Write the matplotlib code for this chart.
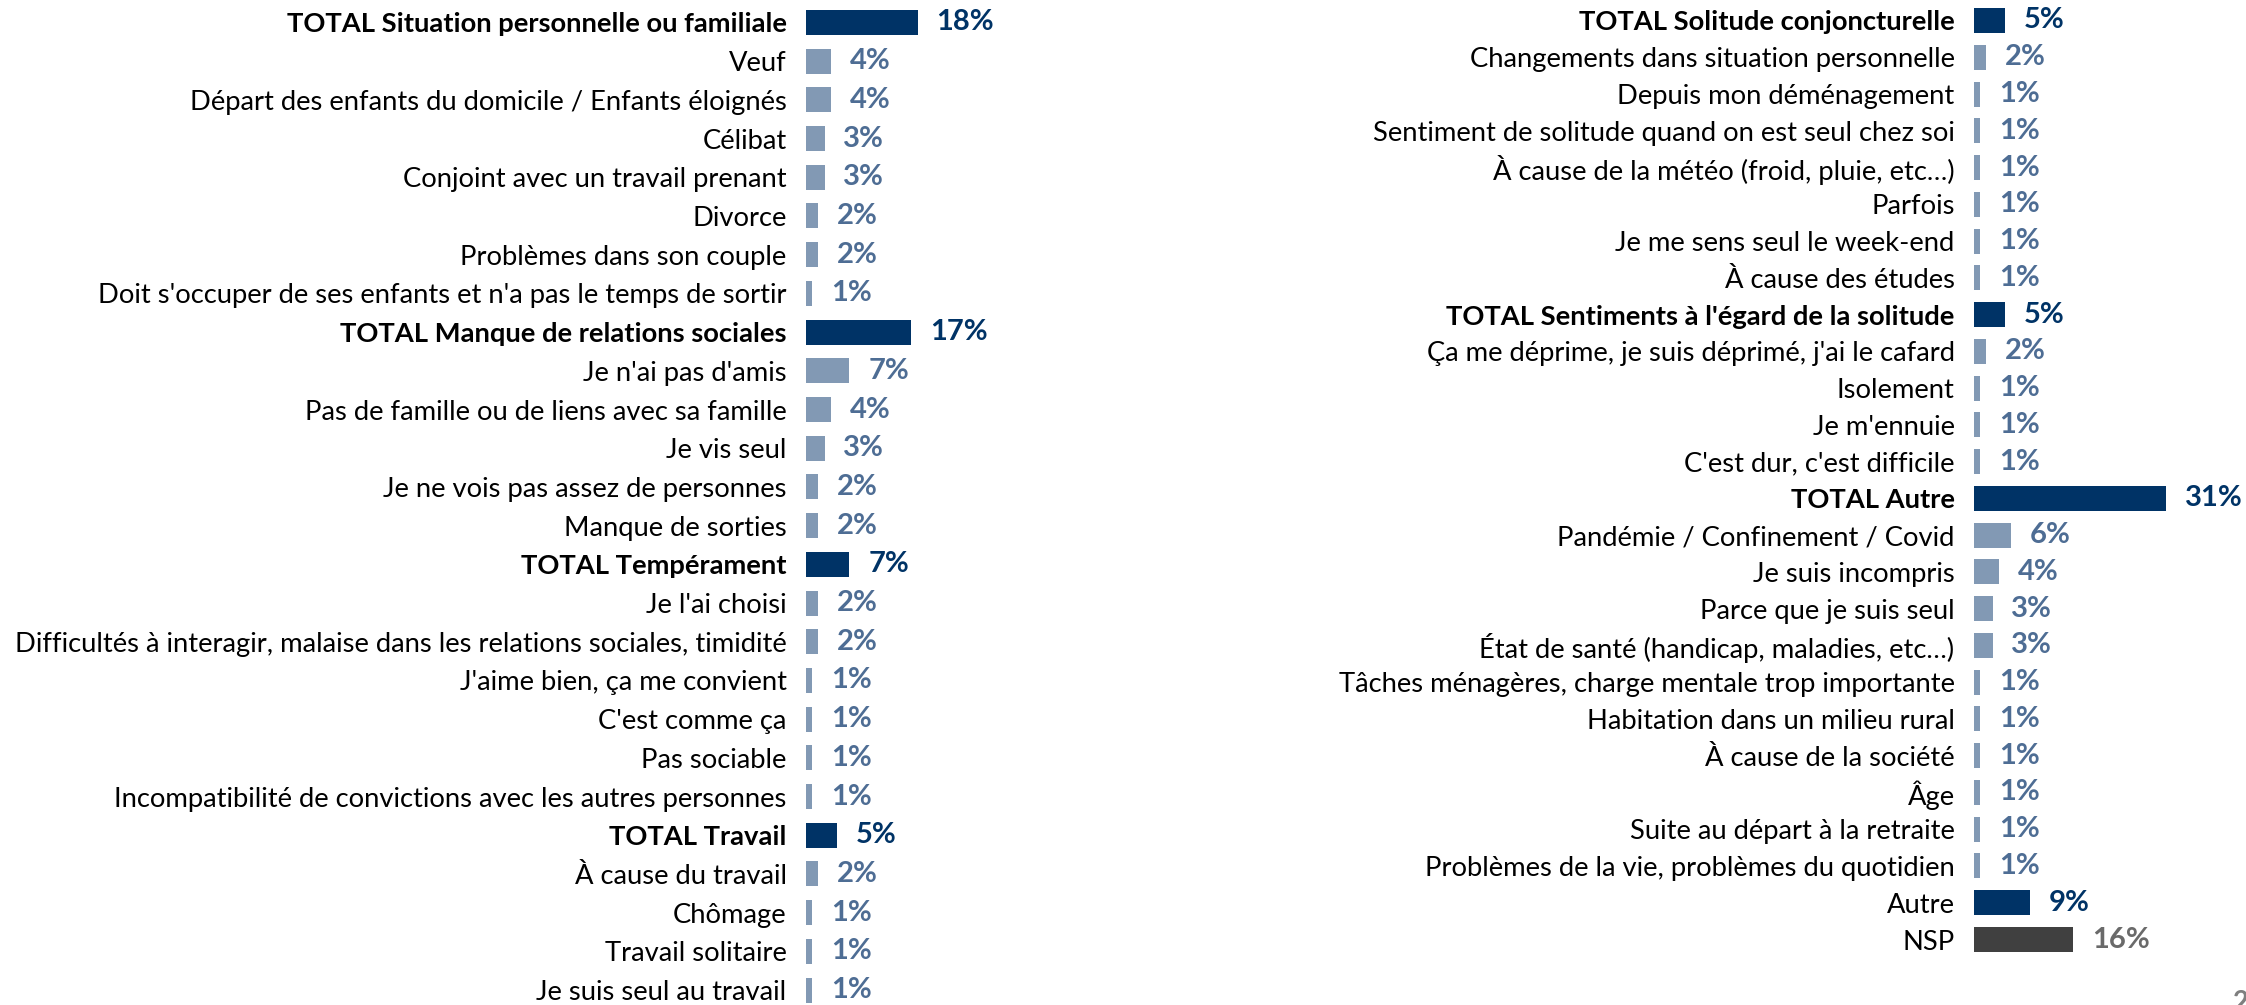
import matplotlib
matplotlib.use("Agg")
import matplotlib.pyplot as plt

plt.rcParams["font.family"] = ["Lato", "DejaVu Sans"]

# Left column
left_labels = [
    "TOTAL Situation personnelle ou familiale",
    "Veuf",
    "Départ des enfants du domicile / Enfants éloignés",
    "Célibat",
    "Conjoint avec un travail prenant",
    "Divorce",
    "Problèmes dans son couple",
    "Doit s'occuper de ses enfants et n'a pas le temps de sortir",
    "TOTAL Manque de relations sociales",
    "Je n'ai pas d'amis",
    "Pas de famille ou de liens avec sa famille",
    "Je vis seul",
    "Je ne vois pas assez de personnes",
    "Manque de sorties",
    "TOTAL Tempérament",
    "Je l'ai choisi",
    "Difficultés à interagir, malaise dans les relations sociales, timidité",
    "J'aime bien, ça me convient",
    "C'est comme ça",
    "Pas sociable",
    "Incompatibilité de convictions avec les autres personnes",
    "TOTAL Travail",
    "À cause du travail",
    "Chômage",
    "Travail solitaire",
    "Je suis seul au travail",
]
left_values = [18, 4, 4, 3, 3, 2, 2, 1, 17, 7, 4, 3, 2, 2, 7, 2, 2, 1, 1, 1, 1, 5, 2, 1, 1, 1]
left_kind = ["total", "sub", "sub", "sub", "sub", "sub", "sub", "sub",
             "total", "sub", "sub", "sub", "sub", "sub",
             "total", "sub", "sub", "sub", "sub", "sub", "sub",
             "total", "sub", "sub", "sub", "sub"]

# Right column
right_labels = [
    "TOTAL Solitude conjoncturelle",
    "Changements dans situation personnelle",
    "Depuis mon déménagement",
    "Sentiment de solitude quand on est seul chez soi",
    "À cause de la météo (froid, pluie, etc…)",
    "Parfois",
    "Je me sens seul le week-end",
    "À cause des études",
    "TOTAL Sentiments à l'égard de la solitude",
    "Ça me déprime, je suis déprimé, j'ai le cafard",
    "Isolement",
    "Je m'ennuie",
    "C'est dur, c'est difficile",
    "TOTAL Autre",
    "Pandémie / Confinement / Covid",
    "Je suis incompris",
    "Parce que je suis seul",
    "État de santé (handicap, maladies, etc…)",
    "Tâches ménagères, charge mentale trop importante",
    "Habitation dans un milieu rural",
    "À cause de la société",
    "Âge",
    "Suite au départ à la retraite",
    "Problèmes de la vie, problèmes du quotidien",
    "Autre",
    "NSP",
]
right_values = [5, 2, 1, 1, 1, 1, 1, 1, 5, 2, 1, 1, 1, 31, 6, 4, 3, 3, 1, 1, 1, 1, 1, 1, 9, 16]
right_kind = ["total", "sub", "sub", "sub", "sub", "sub", "sub", "sub",
              "total", "sub", "sub", "sub", "sub",
              "total", "sub", "sub", "sub", "sub", "sub", "sub", "sub", "sub", "sub", "sub",
              "other", "nsp"]

NAVY = "#003366"
LIGHT = "#8299B4"
LIGHT_TXT = "#4E6D94"
NSP_BAR = "#404040"
NSP_TXT = "#6A6A6A"

styles = {
    "total": dict(bar=NAVY, txt=NAVY),
    "sub": dict(bar=LIGHT, txt=LIGHT_TXT),
    "other": dict(bar=NAVY, txt=NAVY),
    "nsp": dict(bar=NSP_BAR, txt=NSP_TXT),
}

W, H, DPI = 2246, 1005, 100
PX_PER_PCT = 6.2
FS = 19.7
FS_VAL = 21

fig = plt.figure(figsize=(W / DPI, H / DPI), dpi=DPI)


def panel(x0_px, x1_px, first_px, step_px, labels, values, kinds):
    ax = fig.add_axes([x0_px / W, 0, (x1_px - x0_px) / W, 1])
    n = len(labels)
    ys = list(range(n))
    colors = [styles[k]["bar"] for k in kinds]
    ax.barh(ys, values, height=25 / step_px, color=colors)
    ax.set_xlim(0, (x1_px - x0_px) / PX_PER_PCT)
    top = -first_px / step_px
    ax.set_ylim(top + H / step_px, top)
    ax.set_yticks(ys)
    ax.set_yticklabels(labels, fontsize=FS)
    for tl, k in zip(ax.get_yticklabels(), kinds):
        if k == "total":
            tl.set_fontweight("bold")
    ax.tick_params(axis="y", length=0, pad=14)
    ax.set_xticks([])
    for s in ax.spines.values():
        s.set_visible(False)
    for y, v, k in zip(ys, values, kinds):
        ax.annotate(f"{v}%", (v, y), xytext=(13.5, 0), textcoords="offset points",
                    va="center", ha="left", fontsize=FS_VAL, fontweight="bold",
                    color=styles[k]["txt"], annotation_clip=False)
    return ax


panel(806, 1250, 22.5, 38.7, left_labels, left_values, left_kind)
panel(1974, 2246, 20.5, 36.76, right_labels, right_values, right_kind)

# page number, partly cut by the bottom edge
fig.text(2233 / W, 1 - 990 / H, "2", ha="left", va="top", fontsize=20,
         fontweight="bold", color="#7F7F7F")

fig.savefig("out.png", dpi=DPI)
